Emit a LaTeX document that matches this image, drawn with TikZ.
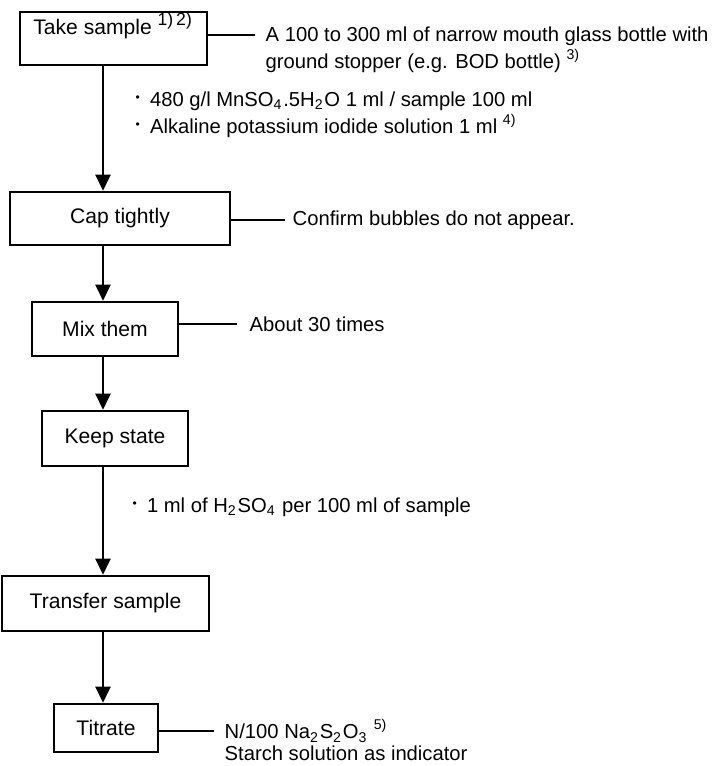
\documentclass[tikz,border=0pt]{standalone}
\usepackage{fontspec}
\setmainfont{Liberation Sans}
\usepackage{graphicx}
\usetikzlibrary{arrows.meta}
\newdimen\px \px=0.01cm
\newcommand{\itemdot}{\raisebox{0.45ex}{\scalebox{0.6}{\textbullet}}\hspace{0.5em}}

\tikzset{
  stepbox/.style={draw, line width=0.65pt, inner sep=0pt, minimum height=53\px, font=\fontsize{6}{7}\selectfont},
  note/.style={inner sep=0pt, align=left, font=\fontsize{5.75}{5.6}\selectfont},
  flow/.style={line width=0.8pt, -{Triangle[length=4.6pt,width=4.2pt]}},
  leader/.style={line width=0.4pt}
}

\begin{document}
\begin{tikzpicture}[x=0.01cm, y=-0.01cm]
  \useasboundingbox (0,0) rectangle (713,766);

  % steps
  \node[stepbox, minimum width=187\px, text height=22.3\px, text depth=30.7\px] (take) at (113.5,38.5) {Take sample \textsuperscript{1)\,2)}};
  \node[stepbox, minimum width=220\px] (cap) at (120,218.5) {Cap tightly};
  \node[stepbox, minimum width=146\px, minimum height=54\px] (mix) at (105,329) {Mix them};
  \node[stepbox, minimum width=146\px, minimum height=55\px] (keep) at (115,438.5) {Keep state};
  \node[stepbox, minimum width=207\px, minimum height=55\px] (transfer) at (105.5,603.5) {Transfer sample};
  \node[stepbox, minimum width=104\px, minimum height=48\px] (titrate) at (106,728) {Titrate};

  % main line
  \coordinate (spine) at (103,0);
  \draw[flow] (take.south -| spine) -- (cap.north -| spine);
  \draw[flow] (cap.south -| spine) -- (mix.north -| spine);
  \draw[flow] (mix.south -| spine) -- (keep.north -| spine);
  \draw[flow] (keep.south -| spine) -- (transfer.north -| spine);
  \draw[flow] (transfer.south -| spine) -- (titrate.north -| spine);

  % notes
  \coordinate (n1) at (255,35);
  \draw[leader] (take.east |- n1) -- (n1);
  \node[note, anchor=north west] (bottle) at (265,26) {A 100 to 300 ml of narrow mouth glass bottle with\\ground stopper (e.g. BOD bottle) \textsuperscript{3)}};

  \node[note, anchor=north west, font=\fontsize{5.75}{6.3}\selectfont] (reagent) at (135,91) {\itemdot 480 g/l MnSO\textsubscript{4}.5H\textsubscript{2}O 1 ml / sample 100 ml\\\itemdot Alkaline potassium iodide solution 1 ml \textsuperscript{4)}};

  \coordinate (n2) at (285,220);
  \draw[leader] (cap.east |- n2) -- (n2);
  \node[note, anchor=west] (bubbles) at (292,220) {Confirm bubbles do not appear.};

  \coordinate (n3) at (237,324);
  \draw[leader] (mix.east |- n3) -- (n3);
  \node[note, anchor=west] (times) at (249,324) {About 30 times};

  \node[note, anchor=west] (acid) at (132,507) {\itemdot 1 ml of H\textsubscript{2}SO\textsubscript{4} per 100 ml of sample};

  \coordinate (n4) at (214,731);
  \draw[leader] (titrate.east |- n4) -- (n4);
  \node[note, anchor=north west, font=\fontsize{5.75}{6.1}\selectfont] (thio) at (224,719) {N/100 Na\textsubscript{2}S\textsubscript{2}O\textsubscript{3} \textsuperscript{5)}\\Starch solution as indicator};
\end{tikzpicture}
\end{document}
